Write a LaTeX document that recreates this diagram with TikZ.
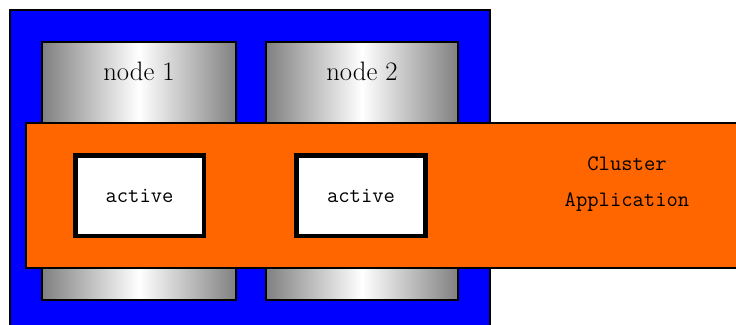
\documentclass[tikz,border=0pt]{standalone}
\definecolor{clblue}{RGB}{0,0,255}
\definecolor{clorange}{RGB}{255,102,0}
\definecolor{clgray}{RGB}{128,128,128}
\tikzset{
  frame/.style={draw=black, line width=0.9pt, fill=clblue, minimum width=360pt, minimum height=240pt, inner sep=0pt},
  hostbox/.style={draw=black, line width=1.5pt, left color=clgray, right color=clgray, middle color=white, minimum height=193.5pt, inner sep=0pt},
  appbar/.style={draw=black, line width=1.1pt, fill=clorange, minimum width=540pt, minimum height=108.75pt, inner sep=0pt},
  actbox/.style={draw=black, line width=3.4pt, fill=white, minimum width=96.4pt, minimum height=60.4pt, inner sep=0pt},
  hostlabel/.style={font=\fontsize{20}{24}\selectfont},
  mono/.style={font=\ttfamily\fontsize{16.5}{27}\selectfont, align=center}
}
\begin{document}
\begin{tikzpicture}[x=0.75pt, y=-0.75pt]
\clip (0,0) rectangle (736,325);
\node[frame] (cluster) at (250,170) {};
\node[hostbox, minimum width=145.5pt] (n1) at (139,171) {};
\node[hostbox, minimum width=144pt] (n2) at (362,171) {};
\node[hostlabel] (l1) at (139,71) {node 1};
\node[hostlabel] (l2) at (362,71) {node 2};
\node[appbar] (app) at (386,195.5) {};
\node[actbox] (a1) at (139.5,195.5) {};
\node[actbox] (a2) at (361,195.5) {};
\node[mono] (t1) at (139.5,196) {active};
\node[mono] (t2) at (361,196) {active};
\node[mono] (capp) at (627,184) {Cluster\\Application};
\end{tikzpicture}
\end{document}
